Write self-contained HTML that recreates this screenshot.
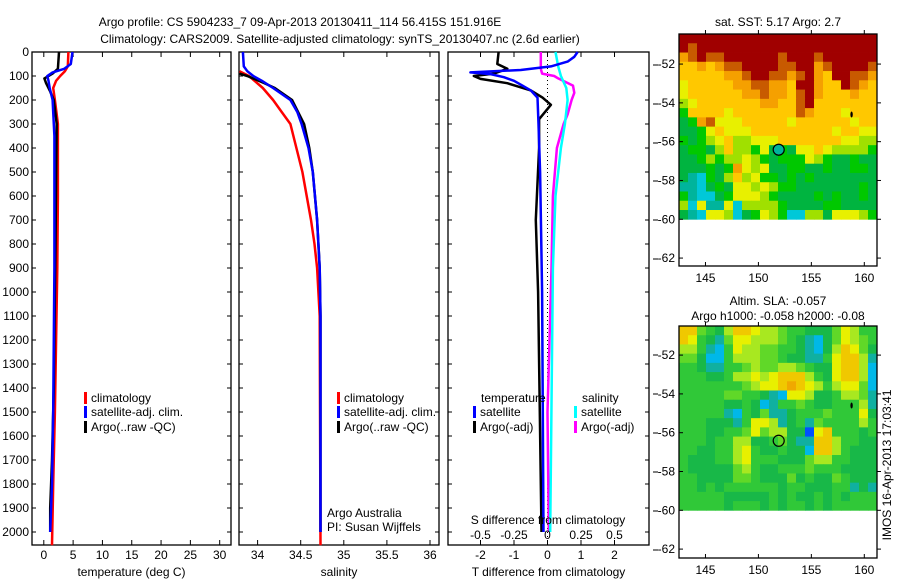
<!DOCTYPE html>
<html><head><meta charset="utf-8">
<style>
html,body{margin:0;padding:0;background:#fff;}
svg{display:block;font-family:"Liberation Sans",sans-serif;}
text{fill:#000;font-size:12px;}
</style></head>
<body>
<svg id="fig" width="900" height="580" viewBox="0 0 900 580" xmlns="http://www.w3.org/2000/svg">
<text x="300" y="26" text-anchor="middle" font-size="13">Argo profile: CS 5904233_7 09-Apr-2013 20130411_114 56.415S 151.916E</text>
<text x="340" y="43" text-anchor="middle" font-size="13">Climatology: CARS2009. Satellite-adjusted climatology: synTS_20130407.nc (2.6d earlier)</text>
</svg>
<script>
// ---------- data ----------
const depthTicks=[0,100,200,300,400,500,600,700,800,900,1000,1100,1200,1300,1400,1500,1600,1700,1800,1900,2000];
const tempTicks=[0,5,10,15,20,25,30];
const salTicks=[34,34.5,35,35.5,36];
const tdTicks=[-2,-1,0,1,2];
const sdTicks=[-0.5,-0.25,0,0.25,0.5];
const sdTickLabels=["-0.5","-0.25","0","0.25","0.5"];

const tClimDepth=[0,60,80,100,120,150,200,300,600,900,1200,1500,1800,2055];
const tClimVal=[4.2,4.1,3.6,2.8,2.1,1.6,1.9,2.4,2.4,2.3,2.1,1.9,1.6,1.4];
const tSatDepth=[0,50,70,85,100,120,150,200,350,900,1500,1800,2000];
const tSatVal=[4.9,4.6,3.5,1.5,0.6,0.8,1.0,1.5,1.8,1.8,1.6,1.4,1.1];
const tArgoDepth=[0,70,90,110,130,160,200,300,800,1400,1700,1900,2000];
const tArgoVal=[2.6,2.4,1.5,0.1,0.4,1.0,1.7,2.2,2.0,1.7,1.4,1.1,1.1];

const sClimDepth=[80,100,150,200,250,300,400,500,600,700,800,900,1100,2055];
const sClimVal=[33.79,33.9,34.06,34.18,34.28,34.38,34.45,34.52,34.57,34.62,34.66,34.69,34.72,34.73];
const sSatDepth=[0,60,80,100,120,150,200,250,300,400,500,700,900,1100,2000];
const sSatVal=[33.83,33.84,33.88,33.95,34.05,34.18,34.38,34.46,34.51,34.59,34.64,34.69,34.72,34.73,34.73];
const sArgoDepth=[90,100,130,150,200,300,400,500,700,900,1100,2000];
const sArgoVal=[33.79,33.88,34.08,34.2,34.4,34.54,34.6,34.64,34.69,34.72,34.73,34.73];

const dtSatDepth=[0,20,40,60,75,85,92,105,120,140,160,190,300,500,1000,2000];
const dtSatVal=[0.9,0.8,0.6,0.1,-0.8,-2.3,-1.7,-1.3,-1.0,-0.75,-0.5,-0.3,-0.27,-0.22,-0.16,-0.12];
const dtArgoDepth=[0,50,70,90,100,112,130,160,190,220,280,400,700,1000,2000];
const dtArgoVal=[-1.46,-1.5,-1.2,-1.6,-2.2,-2.0,-1.2,-0.5,-0.15,0.1,-0.25,-0.25,-0.35,-0.28,-0.18];
const dsSatDepth=[0,60,100,150,200,300,400,600,900,2000];
const dsSatVal=[0.06,0.08,0.1,0.14,0.15,0.13,0.1,0.06,0.04,0.02];
const dsArgoDepth=[0,70,90,100,110,140,170,200,260,300,400,600,900,1500,2000];
const dsArgoVal=[-0.05,-0.05,-0.04,0.05,0.08,0.19,0.2,0.18,0.15,0.12,0.07,0.04,0.03,0.0,0.01];

const sstRows=["aaaaaaaaaaaaaaaaaaaaaa","a9aaaaaaaaaaaaaaaaaaaa","89a99aaaaaa9aaa9aaaaaa","7787899aaaa99aa89aaaa9","77777889aa9989a87aa998","6777778899887aa877a987","67777778898879a8777877","56777777788779a7777777","4777767777777987776777","3489666777776777777677","3346766677777777767766","4345675566677777776655","3443575546343667655554","3345455654344465433433","3334348656334433433443","3214357564434343333333","2213436656544333333343","4211346665433334343343","5162261555543333443333","3216651346541155366654"];
const slaRows=["8854368876654433357644","8743257766654321357654","6642147665544321368753","5531146665543322478862","4432244565566543378861","4443346676788864378861","4444444567789876467751","4444455443217763346652","4444433431244543344462","4444421435223444544473","4443332477623425444464","4443344575663307844434","4443446633453228864433","4433446743343318864333","4333446744433356644333","4333335643344454443333","4433335543335343354333","4434344444434433344232","4444433333434334343444","4444434443434434344444"];
const latTicks=[-52,-54,-56,-58,-60,-62];
const lonTicks=[145,150,155,160];
const argoLon=[151.916];
const argoLat=[-56.415];

// ---------- helpers ----------
const NS="http://www.w3.org/2000/svg";
const svg=document.getElementById('fig');
function mk(tag,attrs,parent){const e=document.createElementNS(NS,tag);for(const k in attrs)e.setAttribute(k,attrs[k]);(parent||svg).appendChild(e);return e;}
function txt(x,y,s,anchor,size,parent){const t=mk('text',{x:x,y:y,'text-anchor':anchor||'start'},parent);if(size)t.setAttribute('font-size',size);t.textContent=s;return t;}
const yD=d=>52+d*0.24;
const PTOP=52,PBOT=545;

function panel(name,left,right,xs,ticks,labels,title){
  const g=mk('g',{});
  
  
  const r=mk('rect',{x:left,y:PTOP,width:right-left,height:PBOT-PTOP,fill:'none',stroke:'#000','stroke-width':1.3},g);
  
  
  ticks.forEach((v,i)=>{const x=xs(v);
    mk('line',{x1:x,y1:PTOP,x2:x,y2:PTOP+5,stroke:'#000'},g);
    mk('line',{x1:x,y1:PBOT,x2:x,y2:PBOT-5,stroke:'#000'},g);
    if(labels){const t=txt(x,559,labels[i],'middle',12,g);
      
      }
  });
  depthTicks.forEach(d=>{mk('line',{x1:left,y1:yD(d),x2:left+4,y2:yD(d),stroke:'#000'},g);mk('line',{x1:right,y1:yD(d),x2:right-4,y2:yD(d),stroke:'#000'},g);});
  if(title){const t=txt((left+right)/2,576,title,'middle',12,g);
    
    }
  return g;
}
function line(g,depths,vals,xs,color,name,w){
  const pts=depths.map((d,i)=>xs(vals[i]).toFixed(1)+','+yD(d).toFixed(1)).join(' ');
  const p=mk('polyline',{points:pts,fill:'none',stroke:color,'stroke-width':w||2.5,'stroke-linejoin':'round'},g);
  
  
}
function legend(g,x,y,color,label,name){
  mk('rect',{x:x,y:y-10,width:3,height:12,fill:color},g);
  const t=txt(x+7,y,label,'start',12,g);
  
  
}

// depth axis labels
depthTicks.forEach(d=>{const t=txt(29,yD(d)+4,String(d),'end',12);
  
  });

// panel 1 temperature
const xT=v=>43.8+v*5.863;
const g1=panel('temperature-panel',32,231,xT,tempTicks,tempTicks.map(String),'temperature (deg C)');
line(g1,tClimDepth,tClimVal,xT,'#f00','temp-climatology-line');
line(g1,tArgoDepth,tArgoVal,xT,'#000','temp-argo-line');
line(g1,tSatDepth,tSatVal,xT,'#00f','temp-satellite-line');
legend(g1,84,402,'#f00','climatology','legend-climatology');
legend(g1,84,416,'#00f','satellite-adj. clim.','legend-satellite');
legend(g1,84,431,'#000','Argo(..raw -QC)','legend-argo');

// panel 2 salinity
const xS=v=>257.6+(v-34)*86.2;
const g2=panel('salinity-panel',239,439,xS,salTicks,salTicks.map(String),'salinity');
line(g2,sClimDepth,sClimVal,xS,'#f00','sal-climatology-line');
line(g2,sArgoDepth,sArgoVal,xS,'#000','sal-argo-line');
line(g2,sSatDepth,sSatVal,xS,'#00f','sal-satellite-line');
legend(g2,337,402,'#f00','climatology','legend-climatology-2');
legend(g2,337,416,'#00f','satellite-adj. clim.','legend-satellite-2');
legend(g2,337,431,'#000','Argo(..raw -QC)','legend-argo-2');
let t=txt(327,517,'Argo Australia','start',12,g2);


t=txt(327,531,'PI: Susan Wijffels','start',12,g2);



// panel 3 differences
const xDT=v=>547.5+v*33.5;
const xDS=v=>547.5+v*134;
const g3=panel('difference-panel',448,649,xDT,tdTicks,tdTicks.map(String),'T difference from climatology');
mk('line',{x1:547.5,y1:PTOP,x2:547.5,y2:PBOT,stroke:'#000','stroke-dasharray':'1,3'},g3);
line(g3,dsArgoDepth,dsArgoVal,xDS,'#f0f','sdiff-argo-line');
line(g3,dsSatDepth,dsSatVal,xDS,'#0ff','sdiff-satellite-line');
line(g3,dtArgoDepth,dtArgoVal,xDT,'#000','tdiff-argo-line');
line(g3,dtSatDepth,dtSatVal,xDT,'#00f','tdiff-satellite-line');
t=txt(481,402,'temperature','start',12,g3);


t=txt(582,402,'salinity','start',12,g3);


legend(g3,473,416,'#00f','satellite','legend-t-satellite');
legend(g3,473,431,'#000','Argo(-adj)','legend-t-argo');
legend(g3,574,416,'#0ff','satellite','legend-s-satellite');
legend(g3,574,431,'#f0f','Argo(-adj)','legend-s-argo');
t=txt(548,524,'S difference from climatology','middle',12,g3);


sdTicks.forEach((v,i)=>{const tt=txt(xDS(v),539,sdTickLabels[i],'middle',12,g3);
  
  });
[65,104,143,181,220,259, 355,394,433,472,511,550].forEach(y=>mk('line',{x1:653,y1:y,x2:658,y2:y,stroke:'#000'}));

// maps
const sstCol={'0':'#0030f0','1':'#00c8d8','2':'#00b49c','3':'#00b440','4':'#00c800','5':'#a0e000','6':'#e8f000','7':'#ffc800','8':'#f5a000','9':'#c85a00','a':'#a00000'};
const slaCol={'0':'#0050ff','1':'#00b8e8','2':'#10b0a0','3':'#18b848','4':'#30c838','5':'#60d828','6':'#a8e820','7':'#e8f000','8':'#f0c800','9':'#f0a800'};
function map(name,top,latTop,rows,cmap,title1,title2){
  const left=679,right=877,bottom=top+232;
  const lonMin=142.5,lonMax=161.2;
  const xm=lon=>left+(lon-lonMin)/(lonMax-lonMin)*(right-left);
  const ym=lat=>top+(latTop-lat)*19.4;
  const g=mk('g',{});
  
  
  const nr=rows.length,nc=rows[0].length;
  const latBot=-60, dlat=(latTop-latBot)/nr, dlon=(lonMax-lonMin)/nc;
  rows.forEach((row,i)=>{for(let j=0;j<nc;j++){
    const x0=xm(lonMin+j*dlon),y0=ym(latTop-i*dlat);
    const c=mk('rect',{x:x0.toFixed(2),y:y0.toFixed(2),width:(xm(lonMin+(j+1)*dlon)-x0+0.4).toFixed(2),height:(ym(latTop-(i+1)*dlat)-y0+0.4).toFixed(2),fill:cmap[row[j]]},g);
    
    
  }});
  const f=mk('rect',{x:left,y:top,width:right-left,height:bottom-top,fill:'none',stroke:'#000','stroke-width':1.3},g);
  
  
  latTicks.forEach(l=>{const y=ym(l);mk('line',{x1:left,y1:y,x2:left+4,y2:y,stroke:'#000'},g);mk('line',{x1:right,y1:y,x2:right+4,y2:y,stroke:'#000'},g);
    const tt=txt(675,y+4,String(l),'end',12,g);
    
    });
  lonTicks.forEach(l=>{const x=xm(l);mk('line',{x1:x,y1:top,x2:x,y2:top-4,stroke:'#000'},g);mk('line',{x1:x,y1:bottom,x2:x,y2:bottom-4,stroke:'#000'},g);
    const tt=txt(x,bottom+16,String(l),'middle',12,g);
    
    });
  const mk1=mk('ellipse',{cx:xm(158.8),cy:ym(-54.6),rx:1.2,ry:3,fill:'#000'},g);
  
  
  const cc=mk('circle',{cx:xm(argoLon[0]),cy:ym(argoLat[0]),r:5.5,fill:name==='sst-map'?'#00b49c':'none',stroke:'#000','stroke-width':1.2},g);
  
  
  let a=txt(778,top-(title2?21:8),title1,'middle',12,g);
  
  
  if(title2){a=txt(778,top-6,title2,'middle',12,g);
    
    }
}
map('sst-map',34,-50.45,sstRows,sstCol,'sat. SST: 5.17 Argo: 2.7');
map('sla-map',326,-50.5,slaRows,slaCol,'Altim. SLA: -0.057','Argo h1000: -0.058 h2000: -0.08');
t=txt(0,0,'IMOS 16-Apr-2013 17:03:41','middle',12);
t.setAttribute('transform','translate(891,465) rotate(-90)');


</script>
</body></html>
